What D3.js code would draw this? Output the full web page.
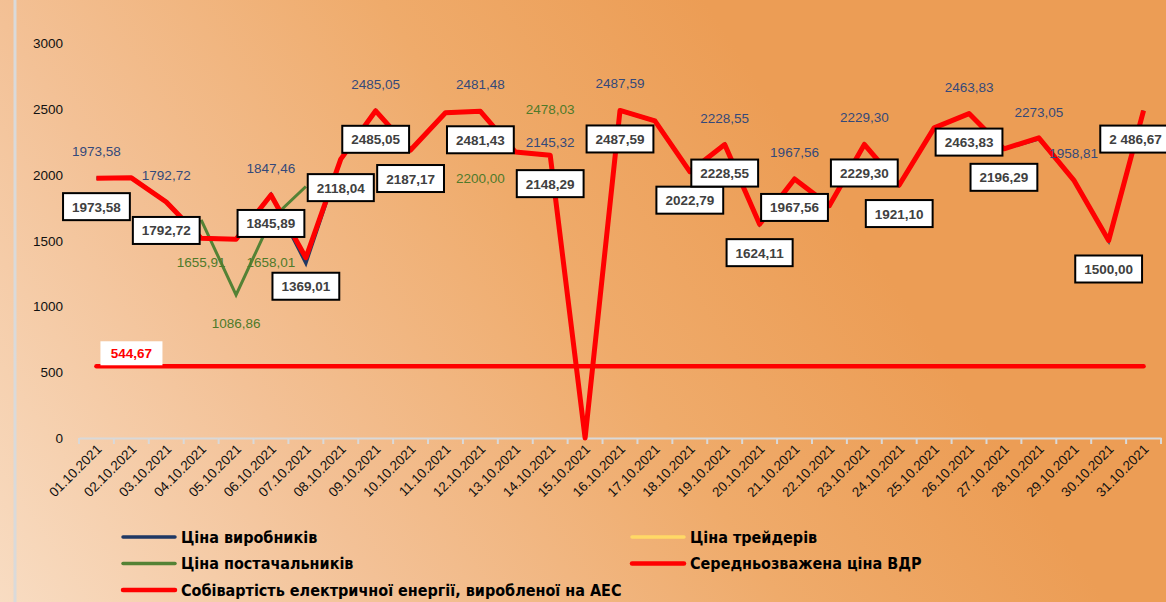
<!DOCTYPE html>
<html>
<head>
<meta charset="utf-8">
<script src="https://cdn.jsdelivr.net/npm/d3@7"></script>
<style>
  body { margin: 0; overflow: hidden; }
  svg { display: block; }
</style>
</head>
<body>
<svg width="1166" height="602"></svg>
<script>
// ---- data ----
const days = ["01.10.2021","02.10.2021","03.10.2021","04.10.2021","05.10.2021","06.10.2021","07.10.2021",
  "08.10.2021","09.10.2021","10.10.2021","11.10.2021","12.10.2021","13.10.2021","14.10.2021","15.10.2021",
  "16.10.2021","17.10.2021","18.10.2021","19.10.2021","20.10.2021","21.10.2021","22.10.2021","23.10.2021",
  "24.10.2021","25.10.2021","26.10.2021","27.10.2021","28.10.2021","29.10.2021","30.10.2021","31.10.2021"];

// Середньозважена ціна ВДР
const wdrPrice = [1973.58, 1976, 1792.72, 1517, 1510, 1845.89, 1369.01, 2118.04, 2485.05, 2187.17, 2470,
  2481.43, 2173, 2148.29, 0, 2487.59, 2409, 2022.79, 2228.55, 1624.11, 1967.56, 1765, 2229.30, 1921.10,
  2355, 2463.83, 2196.29, 2280, 1958.81, 1500.00, 2486.67];
const wdrLabels = ["1973,58", null, "1792,72", null, null, "1845,89", "1369,01", "2118,04", "2485,05", "2187,17", null,
  "2481,43", null, "2148,29", null, "2487,59", null, "2022,79", "2228,55", "1624,11", "1967,56", null, "2229,30",
  "1921,10", null, "2463,83", "2196,29", null, null, "1500,00", "2 486,67"];

// Ціна виробників
const producerPrice = [1973.58, 1976, 1792.72, 1517, 1510, 1847.46, 1330, 2118.04, 2485.05, 2187.17, 2470,
  2481.48, 2173, 2145.32, null, 2487.59, 2409, 2022.79, 2228.55, 1624.11, 1967.56, 1765, 2229.30, 1921.10,
  2355, 2463.83, 2196.29, 2273.05, 1958.81, 1500.00, 2486.67];
const producerLabels = ["1973,58", null, "1792,72", null, null, "1847,46", null, null, "2485,05", null, null,
  "2481,48", null, "2145,32", null, "2487,59", null, null, "2228,55", null, "1967,56", null, "2229,30",
  null, null, "2463,83", null, "2273,05", "1958,81", null, null];

// Ціна постачальників
const supplierPrice = [null, null, null, 1655.91, 1086.86, 1658.01, 1910, null, null, null, null,
  2200.00, null, 2478.03, null, null, null, null, null, null, null, null, null, null, null, null, null,
  null, null, null, null];
const supplierLabels = [null, null, null, "1655,91", "1086,86", "1658,01", null, null, null, null, null,
  "2200,00", null, "2478,03", null, null, null, null, null, null, null, null, null, null, null, null, null,
  null, null, null, null];

// Собівартість електричної енергії, виробленої на АЕС
const npcCost = 544.67;
const npcLabel = "544,67";

const yTicks = [0, 500, 1000, 1500, 2000, 2500, 3000];

const legendNames = ["Ціна виробників", "Ціна трейдерів", "Ціна постачальників",
  "Середньозважена ціна ВДР", "Собівартість електричної енергії, виробленої на АЕС"];
const legendColors = ["#1f3864", "#ffd966", "#548235", "#ff0000", "#ff0000"];

// ---- setup ----
const svg = d3.select("svg");
const W = 1166, H = 602;

const defs = svg.append("defs");
const grad = defs.append("linearGradient")
  .attr("id", "bg")
  .attr("gradientUnits", "userSpaceOnUse")
  .attr("x1", 0).attr("y1", 602).attr("x2", 900).attr("y2", 0);
grad.append("stop").attr("offset", 0).attr("stop-color", "#f8dcc2");
grad.append("stop").attr("offset", 0.3).attr("stop-color", "#f3c196");
grad.append("stop").attr("offset", 0.6).attr("stop-color", "#efab6b");
grad.append("stop").attr("offset", 0.85).attr("stop-color", "#ec9d55");

svg.append("rect").attr("width", W).attr("height", H).attr("fill", "url(#bg)");
svg.append("line")
  .attr("x1", 15).attr("x2", 15).attr("y1", 0).attr("y2", H)
  .attr("stroke", "#dadada").attr("stroke-width", 3);

const x = d3.scaleBand().domain(days).range([79, 1161]);
const y = d3.scaleLinear().domain([0, 3000]).range([438, 43]);
const cx = i => x(days[i]) + x.bandwidth() / 2;

const labelFont = "'Liberation Sans', Arial, sans-serif";

// y axis labels
svg.append("g").selectAll("text")
  .data(yTicks)
  .join("text")
  .attr("x", 63)
  .attr("y", d => y(d) + 5)
  .attr("text-anchor", "end")
  .attr("font-family", labelFont)
  .attr("font-size", 13.5)
  .attr("fill", "#111")
  .text(d => d);

// x axis
const xAxis = svg.append("g").attr("transform", "translate(0,438)")
  .call(d3.axisBottom(x).tickSize(0).tickPadding(0));
xAxis.select(".domain").attr("stroke", "#d9d9d9").attr("stroke-width", 2);
xAxis.selectAll(".tick text")
  .attr("font-family", labelFont)
  .attr("font-size", 13.5)
  .attr("fill", "#111")
  .attr("text-anchor", "end")
  .attr("dy", 0)
  .attr("transform", "translate(6,12) rotate(-45)");
xAxis.selectAll(".bound")
  .data(d3.range(days.length + 1))
  .join("line")
  .attr("class", "bound")
  .attr("x1", i => 79 + i * x.bandwidth())
  .attr("x2", i => 79 + i * x.bandwidth())
  .attr("y1", 0).attr("y2", 6)
  .attr("stroke", "#d9d9d9").attr("stroke-width", 2);

// ---- lines ----
const line = d3.line()
  .defined(d => d != null)
  .x((d, i) => cx(i))
  .y(d => y(d));

svg.append("path").datum(producerPrice)
  .attr("d", line).attr("fill", "none")
  .attr("stroke", "#1f3864").attr("stroke-width", 3.5);
svg.append("path").datum(supplierPrice)
  .attr("d", line).attr("fill", "none")
  .attr("stroke", "#548235").attr("stroke-width", 3);
svg.append("path").datum(wdrPrice)
  .attr("d", line).attr("fill", "none")
  .attr("stroke", "#ff0000").attr("stroke-width", 5)
  .attr("stroke-linejoin", "round");

svg.append("line")
  .attr("x1", cx(0)).attr("x2", cx(days.length - 1))
  .attr("y1", y(npcCost)).attr("y2", y(npcCost))
  .attr("stroke", "#ff0000").attr("stroke-width", 4.5)
  .attr("stroke-linecap", "round");

// ---- labels ----
// producer (plain, slate blue, above the point)
const producerShift = {13: 13};
svg.append("g").selectAll("text")
  .data(producerLabels.map((t, i) => ({t, i})).filter(d => d.t))
  .join("text")
  .attr("x", d => cx(d.i))
  .attr("y", d => y(producerPrice[d.i]) - 27 + (producerShift[d.i] || 0) + 5)
  .attr("text-anchor", "middle")
  .attr("font-family", labelFont)
  .attr("font-size", 13.5)
  .attr("fill", "#34497a")
  .text(d => d.t);

// supplier (plain, green)
const supplierShift = {3: 42, 4: 28, 5: 42, 11: 29.5, 13: -3};
svg.append("g").selectAll("text")
  .data(supplierLabels.map((t, i) => ({t, i})).filter(d => d.t))
  .join("text")
  .attr("x", d => cx(d.i))
  .attr("y", d => y(supplierPrice[d.i]) + supplierShift[d.i] + 5)
  .attr("text-anchor", "middle")
  .attr("font-family", labelFont)
  .attr("font-size", 13.5)
  .attr("fill", "#4f7a2a")
  .text(d => d.t);

// weighted average price (boxed); last box nudged left to stay inside the frame
const boxNudge = {30: -8};
const boxes = svg.append("g").selectAll("g")
  .data(wdrLabels.map((t, i) => ({t, i})).filter(d => d.t))
  .join("g")
  .attr("transform", d => `translate(${cx(d.i) + (boxNudge[d.i] || 0)},${y(wdrPrice[d.i]) + 28.5})`);
boxes.append("rect");
boxes.append("text")
  .attr("y", 5)
  .attr("text-anchor", "middle")
  .attr("font-family", labelFont)
  .attr("font-weight", "bold")
  .attr("font-size", 13.5)
  .attr("fill", "#404040")
  .text(d => d.t);
boxes.each(function() {
  const g = d3.select(this);
  const w = g.select("text").node().getComputedTextLength() + 18;
  g.select("rect")
    .attr("x", -w / 2).attr("y", -13.5)
    .attr("width", w).attr("height", 27)
    .attr("fill", "#fff").attr("stroke", "#000").attr("stroke-width", 2);
});

// AES cost label
const npc = svg.append("g")
  .attr("transform", `translate(${cx(0) + 35},${y(npcCost) - 13})`);
npc.append("rect")
  .attr("x", -31).attr("y", -12).attr("width", 62).attr("height", 24)
  .attr("fill", "#fff");
npc.append("text")
  .attr("y", 5)
  .attr("text-anchor", "middle")
  .attr("font-family", labelFont)
  .attr("font-weight", "bold")
  .attr("font-size", 13.5)
  .attr("fill", "#ff0000")
  .text(npcLabel);

// ---- legend ----
const legend = svg.append("g").selectAll("g")
  .data(legendNames.map((name, i) => ({name, color: legendColors[i], i})))
  .join("g")
  .attr("transform", d => `translate(${d.i % 2 ? 632 : 123},${537 + Math.floor(d.i / 2) * 26.5})`);
legend.append("line")
  .attr("x1", 0).attr("x2", 52)
  .attr("stroke", d => d.color)
  .attr("stroke-width", d => d.i >= 3 ? 4.5 : 3.5)
  .attr("stroke-linecap", "round");
legend.append("text")
  .attr("x", 58).attr("y", 5.5)
  .attr("font-family", "'Liberation Sans Narrow', 'DejaVu Sans Condensed', sans-serif")
  .attr("font-weight", "bold")
  .attr("font-size", 16)
  .attr("fill", "#000")
  .text(d => d.name);
</script>
</body>
</html>
